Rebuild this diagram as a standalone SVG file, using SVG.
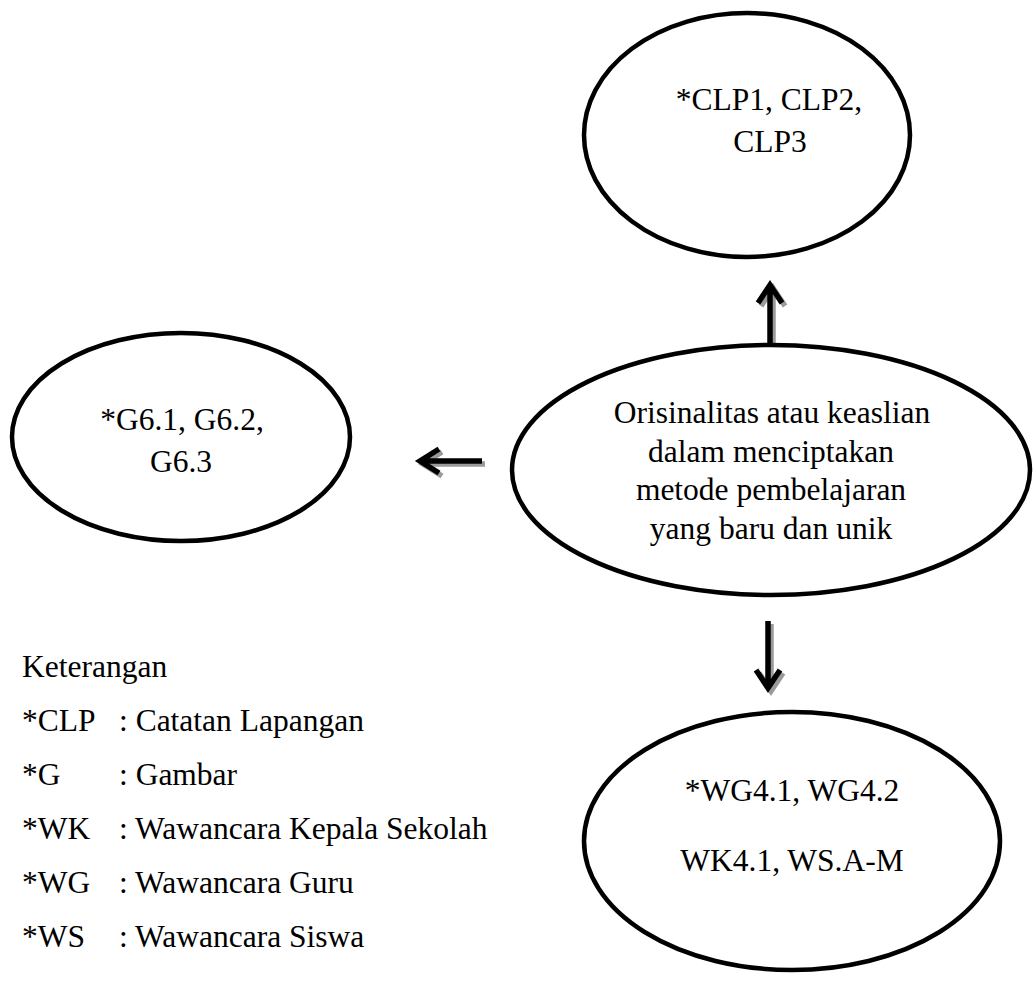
<svg xmlns="http://www.w3.org/2000/svg" width="1035" height="999" viewBox="0 0 1035 999">
  <style>
    .node { fill: #ffffff; stroke: #000000; stroke-width: 4.5; }
    .label { font-family: "Liberation Serif", "Times New Roman", serif; font-size: 31.5px; fill: #000000; }
    .mid { text-anchor: middle; }
    .arrow { fill: none; stroke: #000000; stroke-width: 5.5; stroke-linejoin: miter; stroke-linecap: butt; }
    .shadow { fill: none; stroke: #9a9a9a; stroke-width: 5.5; stroke-linejoin: miter; stroke-linecap: butt; }
  </style>
  <rect width="1035" height="999" fill="#ffffff"/>

  <!-- connectors: shaft + open chevron head, each with a soft grey drop shadow -->
  <g id="connectors">
    <g transform="translate(3,3)">
      <path class="shadow" d="M770 345 V286 M758 303 L770 285 L782 303"/>
      <path class="shadow" d="M482 461 H422 M439 449 L420 461 L439 473"/>
      <path class="shadow" d="M768 621 V686 M756 670 L768 688 L780 670"/>
    </g>
    <path class="arrow" d="M770 345 V286 M758 303 L770 285 L782 303"/>
    <path class="arrow" d="M482 461 H422 M439 449 L420 461 L439 473"/>
    <path class="arrow" d="M768 621 V686 M756 670 L768 688 L780 670"/>
  </g>

  <g id="node-clp">
    <ellipse class="node" cx="747" cy="135" rx="163" ry="122"/>
    <text class="label mid" x="769" y="110">*CLP1, CLP2,</text>
    <text class="label mid" x="770" y="152">CLP3</text>
  </g>

  <g id="node-gambar">
    <ellipse class="node" cx="181" cy="437" rx="169" ry="104"/>
    <text class="label mid" x="182" y="430">*G6.1, G6.2,</text>
    <text class="label mid" x="181" y="472">G6.3</text>
  </g>

  <g id="node-orisinalitas">
    <ellipse class="node" cx="771" cy="470" rx="259" ry="125"/>
    <text class="label mid" x="772" y="423">Orisinalitas atau keaslian</text>
    <text class="label mid" x="771" y="462">dalam menciptakan</text>
    <text class="label mid" x="771" y="500">metode pembelajaran</text>
    <text class="label mid" x="771" y="539">yang baru dan unik</text>
  </g>

  <g id="node-wawancara">
    <ellipse class="node" cx="792" cy="841" rx="208" ry="129"/>
    <text class="label mid" x="792" y="801">*WG4.1, WG4.2</text>
    <text class="label mid" x="792" y="871">WK4.1, WS.A-M</text>
  </g>

  <g id="legend">
    <text class="label" x="22" y="677">Keterangan</text>
    <text class="label" x="22" y="731">*CLP</text>
    <text class="label" x="119" y="731">: Catatan Lapangan</text>
    <text class="label" x="22" y="785">*G</text>
    <text class="label" x="119" y="785">: Gambar</text>
    <text class="label" x="22" y="839">*WK</text>
    <text class="label" x="119" y="839">: Wawancara Kepala Sekolah</text>
    <text class="label" x="22" y="893">*WG</text>
    <text class="label" x="119" y="893">: Wawancara Guru</text>
    <text class="label" x="22" y="947">*WS</text>
    <text class="label" x="119" y="947">: Wawancara Siswa</text>
  </g>
</svg>
